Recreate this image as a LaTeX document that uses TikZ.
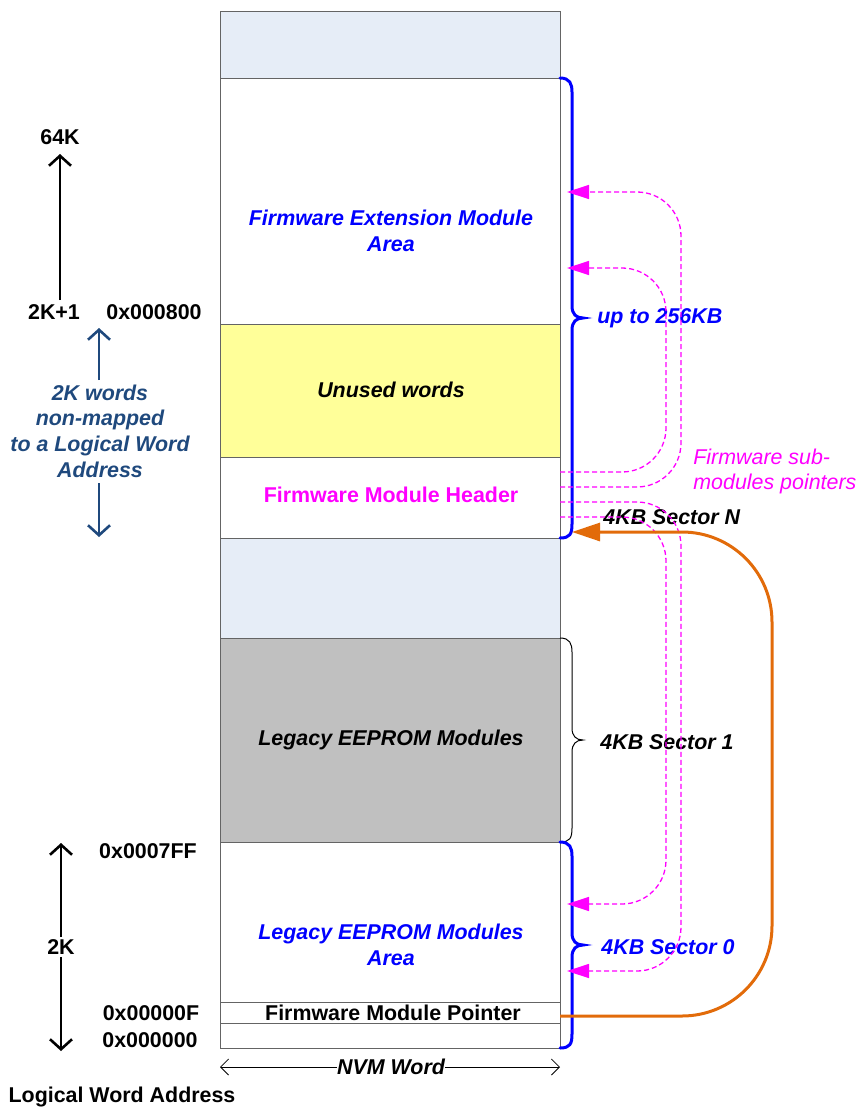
\documentclass[tikz,border=0pt]{standalone}
\usepackage{fontspec}
\setmainfont{Liberation Sans}
\usetikzlibrary{arrows.meta}
\definecolor{pale}{RGB}{230,237,247}
\definecolor{unused}{RGB}{255,255,153}
\definecolor{legacy}{RGB}{192,192,192}
\definecolor{navy}{RGB}{31,73,125}
\definecolor{orng}{RGB}{226,107,10}
\definecolor{frame}{RGB}{100,100,100}
\definecolor{pinkish}{RGB}{255,0,255}
\definecolor{pureblue}{RGB}{0,0,255}
\tikzset{
	txt/.style = {font=\fontsize{10.7}{13}\selectfont\bfseries, align=center, inner sep=1pt},
	itx/.style = {txt, font=\fontsize{10.7}{13}\selectfont\bfseries\itshape},
	cell/.style = {draw=frame, line width=0.5pt},
	addr/.style = {line width=1.3pt, -{Straight Barb[length=5pt,width=11pt]}},
	brc/.style = {pureblue, line width=1.5pt, line cap=round},
	ptr/.style = {pinkish, line width=0.65pt, dash pattern=on 2.5pt off 1.5pt, rounded corners=22pt, -{Triangle[length=11pt,width=7pt]}},
	fwp/.style = {orng, line width=1.5pt, rounded corners=45pt, -{Triangle[length=14pt,width=9pt]}}
}
\begin{document}
\begin{tikzpicture} [x = 0.5pt, y = -0.5pt]
	\useasboundingbox (0,0) rectangle (857,1108);
	% NVM column
	\draw [cell, fill = pale] (220,11) rectangle (560,78);
	\draw [cell, fill = white] (220,78) rectangle (560,324);
	\draw [cell, fill = unused] (220,324) rectangle (560,457);
	\draw [cell, fill = white] (220,457) rectangle (560,538);
	\draw [cell, fill = pale] (220,538) rectangle (560,638);
	\draw [cell, fill = legacy] (220,638) rectangle (560,842);
	\draw [cell, fill = white] (220,842) rectangle (560,1002);
	\draw [cell, fill = white] (220,1002) rectangle (560,1023);
	\draw [cell, fill = white] (220,1023) rectangle (560,1048);
	\node [itx, text = pureblue] (fwext) at (391,231) {Firmware Extension Module\\Area};
	\node [itx] (unusedw) at (391,390) {Unused words};
	\node [txt, text = pinkish] (fwhdr) at (391,495) {Firmware Module Header};
	\node [itx] (legmod) at (391,740) {Legacy EEPROM Modules};
	\node [itx, text = pureblue] (legarea) at (391,945) {Legacy EEPROM Modules\\Area};
	\node [txt] (fwptr) at (393,1013) {Firmware Module Pointer};
	% braces
	\draw [brc] (560,78) .. controls (570,78) and (572,84) .. (572,92) -- (572,306)
		.. controls (572,314) and (576,318) .. (583,318) .. controls (576,318) and (572,322) .. (572,330)
		-- (572,524) .. controls (572,534) and (570,538) .. (560,538);
	\draw [line width = 0.5pt] (560,638) .. controls (570,638) and (572,644) .. (572,652) -- (572,728)
		.. controls (572,736) and (576,740) .. (583,740) .. controls (576,740) and (572,744) .. (572,752)
		-- (572,828) .. controls (572,838) and (570,842) .. (560,842);
	\draw [brc] (560,842) .. controls (570,842) and (572,848) .. (572,856) -- (572,933)
		.. controls (572,941) and (576,945) .. (583,945) .. controls (576,945) and (572,949) .. (572,957)
		-- (572,1034) .. controls (572,1044) and (570,1048) .. (560,1048);
	\node [itx, text = pureblue, anchor = west] (sz256) at (595,318) {up to 256KB};
	\node [itx, anchor = west] (secn) at (601,517) {4KB Sector N};
	\node [itx, anchor = west] (sec1) at (598,742) {4KB Sector 1};
	\node [itx, text = pureblue, anchor = west] (sec0) at (599,947) {4KB Sector 0};
	\node [font = \fontsize{10.7}{12.5}\selectfont\itshape, text = pinkish, align = left, anchor = west, inner sep = 1pt] (subptr) at (691,471) {Firmware sub-\\modules pointers};
	% sub-module pointers
	\coordinate (h1) at (560,472);
	\coordinate (h2) at (560,487);
	\coordinate (h3) at (560,502);
	\coordinate (h4) at (560,517);
	\coordinate (e1) at (567,268);
	\coordinate (e2) at (567,192);
	\coordinate (e3) at (567,971);
	\coordinate (e4) at (567,904);
	\draw [ptr] (h1) -- ++(106,0) |- (e1);
	\draw [ptr] (h2) -- ++(121,0) |- (e2);
	\draw [ptr] (h3) -- ++(121,0) |- (e3);
	\draw [ptr] (h4) -- ++(106,0) |- (e4);
	% firmware module pointer
	\coordinate (fpout) at (560,1016);
	\coordinate (fpin) at (572,532);
	\draw [fwp] (fpout) -- ++(212,0) |- (fpin);
	% logical addresses
	\node [txt] (k64) at (60,137) {64K};
	\node [txt] (k2p1) at (54,312) {2K+1};
	\node [txt] (a800) at (154,312) {0x000800};
	\coordinate (up1) at (60,300);
	\coordinate (up1t) at (60,154);
	\draw [addr] (up1) -- (up1t);
	\node [itx, text = navy, font = \fontsize{10.7}{12.8}\selectfont\bfseries\itshape] (nomap) at (100,431) {2K words\\non-mapped\\to a Logical Word\\Address};
	\coordinate (nm1) at (99,380);
	\coordinate (nm1t) at (99,328);
	\coordinate (nm2) at (99,483);
	\coordinate (nm2t) at (99,537);
	\draw [addr, navy] (nm1) -- (nm1t);
	\draw [addr, navy] (nm2) -- (nm2t);
	\node [txt] (a7ff) at (148,851) {0x0007FF};
	\node [txt] (a00f) at (151,1013) {0x00000F};
	\node [txt] (a000) at (150,1040) {0x000000};
	\node [txt] (k2) at (61,947) {2K};
	\coordinate (lo1) at (61,843);
	\coordinate (lo2) at (61,1051);
	\draw [addr] (k2.north) -- (lo1);
	\draw [addr] (k2.south) -- (lo2);
	\node [txt] (lwa) at (122,1097) {Logical Word Address};
	% word width
	\coordinate (nvml) at (220,1067);
	\coordinate (nvmr) at (560,1067);
	\draw [line width = 0.4pt, {Straight Barb[length=4pt,width=8pt]}-{Straight Barb[length=4pt,width=8pt]}] (nvml) -- (nvmr);
	\node [itx, fill = white, inner sep = 0pt] (nvm) at (391,1067) {NVM Word};
\end{tikzpicture}
\end{document}
